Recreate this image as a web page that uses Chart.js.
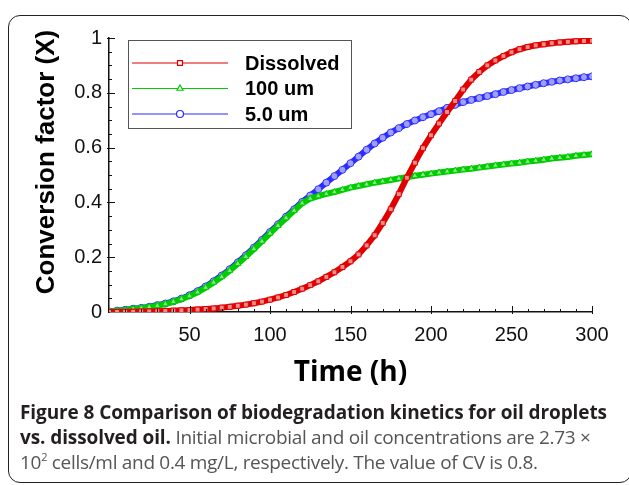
<!DOCTYPE html>
<html>
<head>
<meta charset="utf-8">
<script src="https://cdn.jsdelivr.net/npm/chart.js@4.4.0/dist/chart.umd.min.js"></script>
<style>
  html, body { margin: 0; padding: 0; background: #fff; }
  #wrap { position: relative; width: 629px; height: 485px; overflow: hidden; }
  #frame {
    position: absolute; left: 8px; top: 15px; width: 624px; height: 468px;
    box-sizing: border-box; border: 1.5px solid #222; border-radius: 12px;
  }
  #plot { position: absolute; left: 0; top: 0; }
  #caption {
    position: absolute; left: 20px; top: 400px;
    font-family: 'Open Sans', sans-serif; font-size: 19px; line-height: 25px;
    color: #555; white-space: nowrap; letter-spacing: -0.3px;
  }
  #caption b { color: #231f20; font-weight: 700; letter-spacing: -0.1px; }
  #caption sup { font-size: 11px; line-height: 0; vertical-align: 8px; }
</style>
</head>
<body>
<div id="wrap">
  <div id="frame"></div>
  <canvas id="plot" width="629" height="400"></canvas>
  <div id="caption">
    <b>Figure 8 Comparison of biodegradation kinetics for oil droplets</b><br>
    <b>vs. dissolved oil.</b> Initial microbial and oil concentrations are 2.73 ×<br>
    10<sup>2</sup> cells/ml and 0.4 mg/L, respectively. The value of CV is 0.8.
  </div>
</div>
<script>
// time (h)
const hours = [0, 5, 10, 15, 20, 25, 30, 35, 40, 45, 50, 55, 60, 65, 70, 75, 80, 85, 90, 95,
  100, 105, 110, 115, 120, 125, 130, 135, 140, 145, 150, 155, 160, 165, 170, 175, 180, 185, 190, 195,
  200, 205, 210, 215, 220, 225, 230, 235, 240, 245, 250, 255, 260, 265, 270, 275, 280, 285, 290, 295, 300];

// conversion factor X
const dissolved = [0, 0, 0.001, 0.001, 0.002, 0.002, 0.003, 0.004, 0.005, 0.006,
  0.007, 0.009, 0.011, 0.013, 0.016, 0.019, 0.023, 0.027, 0.032, 0.038,
  0.045, 0.053, 0.062, 0.073, 0.085, 0.098, 0.112, 0.128, 0.145, 0.164,
  0.185, 0.21, 0.243, 0.28, 0.325, 0.375, 0.43, 0.49, 0.545, 0.598,
  0.645, 0.688, 0.73, 0.77, 0.812, 0.848, 0.876, 0.9, 0.918, 0.934,
  0.948, 0.959, 0.967, 0.973, 0.977, 0.981, 0.984, 0.986, 0.988, 0.989, 0.99];
const um100 = [0.002, 0.004, 0.007, 0.011, 0.014, 0.018, 0.023, 0.029, 0.037, 0.047,
  0.058, 0.072, 0.089, 0.108, 0.128, 0.151, 0.176, 0.202, 0.23, 0.258,
  0.287, 0.315, 0.343, 0.37, 0.397, 0.414, 0.423, 0.431, 0.438, 0.446,
  0.454, 0.46, 0.466, 0.472, 0.477, 0.482, 0.487, 0.492, 0.497, 0.501,
  0.505, 0.509, 0.513, 0.516, 0.52, 0.523, 0.527, 0.531, 0.535, 0.538,
  0.542, 0.545, 0.549, 0.552, 0.556, 0.56, 0.563, 0.566, 0.57, 0.573, 0.576];
const um5 = [0.002, 0.005, 0.008, 0.012, 0.015, 0.019, 0.025, 0.031, 0.039, 0.049,
  0.061, 0.076, 0.093, 0.112, 0.133, 0.156, 0.181, 0.207, 0.235, 0.263,
  0.292, 0.32, 0.348, 0.375, 0.402, 0.425, 0.448, 0.472, 0.496, 0.519,
  0.543, 0.567, 0.592, 0.615, 0.636, 0.655, 0.671, 0.686, 0.699, 0.711,
  0.722, 0.733, 0.745, 0.756, 0.766, 0.774, 0.781, 0.788, 0.795, 0.803,
  0.81, 0.817, 0.823, 0.829, 0.835, 0.84, 0.845, 0.849, 0.853, 0.857, 0.86];

const seriesNames = ['Dissolved', '100 um', '5.0 um'];
const xTicks = [50, 100, 150, 200, 250, 300];
const yTicks = [0, 0.2, 0.4, 0.6, 0.8, 1];

const RED = '#e00000', GREEN = '#00cc00', BLUE = '#2b2bff';
const ARIAL = '"Liberation Sans", Arial, sans-serif';

function pts(ys) { return hours.map((h, i) => ({ x: h, y: ys[i] })); }

function series(label, ys, color, pointStyle) {
  return {
    label, data: pts(ys),
    borderColor: color, backgroundColor: color,
    borderWidth: 6, showLine: true, tension: 0,
    pointStyle, pointRadius: 3.5, pointBorderWidth: 1,
    pointBorderColor: color, pointBackgroundColor: 'rgba(255,255,255,0.55)',
  };
}

// ticks drawn inward, like the original plot
const innerTicks = {
  id: 'innerTicks',
  afterDraw(chart) {
    const { ctx, chartArea: a, scales: { x, y } } = chart;
    ctx.save();
    ctx.strokeStyle = '#111';
    ctx.lineWidth = 1;
    ctx.beginPath();
    for (let v = 10; v <= 300; v += 10) {
      const px = Math.round(x.getPixelForValue(v)) + 0.5;
      const major = v % 50 === 0;
      ctx.moveTo(px, a.bottom + (major ? 2 : 0));
      ctx.lineTo(px, a.bottom - (major ? 6 : 3));
    }
    for (let k = 1; k <= 20; k++) {
      const py = Math.round(y.getPixelForValue(k * 0.05)) + 0.5;
      const major = k % 4 === 0;
      ctx.moveTo(a.left - (major ? 2 : 0), py);
      ctx.lineTo(a.left + (major ? 6 : 3), py);
    }
    ctx.stroke();
    ctx.restore();
  }
};

// y title sits a bit above the plot centre in the original
const yTitle = {
  id: 'yTitle',
  afterDraw(chart, args, o) {
    const { ctx } = chart;
    ctx.save();
    ctx.translate(o.x, o.y);
    ctx.rotate(-Math.PI / 2);
    ctx.font = 'bold 26px ' + ARIAL;
    ctx.fillStyle = '#000';
    ctx.textAlign = 'center';
    ctx.textBaseline = 'middle';
    ctx.fillText(o.text, 0, 0);
    ctx.restore();
  }
};

// boxed legend placed inside the plot
const boxLegend = {
  id: 'boxLegend',
  afterDraw(chart, args, o) {
    const { ctx } = chart;
    ctx.save();
    ctx.fillStyle = '#fff';
    ctx.fillRect(o.x, o.y, o.w, o.h);
    ctx.strokeStyle = '#555';
    ctx.lineWidth = 1;
    ctx.strokeRect(o.x + 0.5, o.y + 0.5, o.w, o.h);
    ctx.font = 'bold 20px ' + ARIAL;
    ctx.textBaseline = 'middle';
    chart.data.datasets.forEach((ds, i) => {
      const cy = o.y + o.first + i * o.row;
      ctx.strokeStyle = ds.borderColor;
      ctx.lineWidth = 1.2;
      ctx.beginPath();
      ctx.moveTo(o.x + 4, cy);
      ctx.lineTo(o.x + 100, cy);
      ctx.stroke();
      ctx.fillStyle = '#fff';
      Chart.helpers.drawPoint(ctx, {
        pointStyle: ds.pointStyle, radius: 3.5, borderWidth: 1
      }, o.x + 52, cy);
      ctx.fillStyle = '#000';
      ctx.fillText(ds.label, o.x + 117, cy + 1);
    });
    ctx.restore();
  }
};

new Chart(document.getElementById('plot'), {
  type: 'scatter',
  data: {
    datasets: [
      series(seriesNames[0], dissolved, RED, 'rect'),
      series(seriesNames[1], um100, GREEN, 'triangle'),
      series(seriesNames[2], um5, BLUE, 'circle'),
    ]
  },
  options: {
    responsive: false,
    animation: false,
    devicePixelRatio: 1,
    layout: { padding: { top: 38, right: 37, left: 0, bottom: 0 } },
    plugins: {
      legend: { display: false },
      tooltip: { enabled: false },
      boxLegend: { x: 128, y: 40, w: 223, h: 88, first: 23, row: 25.5 },
      yTitle: { text: 'Conversion factor (X)', x: 47, y: 162 },
    },
    scales: {
      x: {
        type: 'linear', min: 0, max: 300,
        afterFit(s) { s.height = 88; },
        afterBuildTicks(s) { s.ticks = xTicks.map(v => ({ value: v })); },
        grid: { drawOnChartArea: false, drawTicks: false },
        border: { display: true, color: '#111', width: 1.5 },
        ticks: { color: '#111', padding: 11, font: { family: ARIAL, size: 20 } },
        title: {
          display: true, text: 'Time (h)', color: '#000',
          font: { family: '"Open Sans", sans-serif', size: 28, weight: 'bold' },
          padding: { bottom: 10 },
        },
      },
      y: {
        min: 0, max: 1,
        afterFit(s) { s.width = 109; },
        afterBuildTicks(s) { s.ticks = yTicks.map(v => ({ value: v })); },
        grid: { drawOnChartArea: false, drawTicks: false },
        border: { display: true, color: '#111', width: 1.5 },
        ticks: {
          color: '#111', padding: 7, font: { family: ARIAL, size: 20 },
          callback: v => String(v),
        },
      },
    },
  },
  plugins: [innerTicks, yTitle, boxLegend],
});
</script>
</body>
</html>
